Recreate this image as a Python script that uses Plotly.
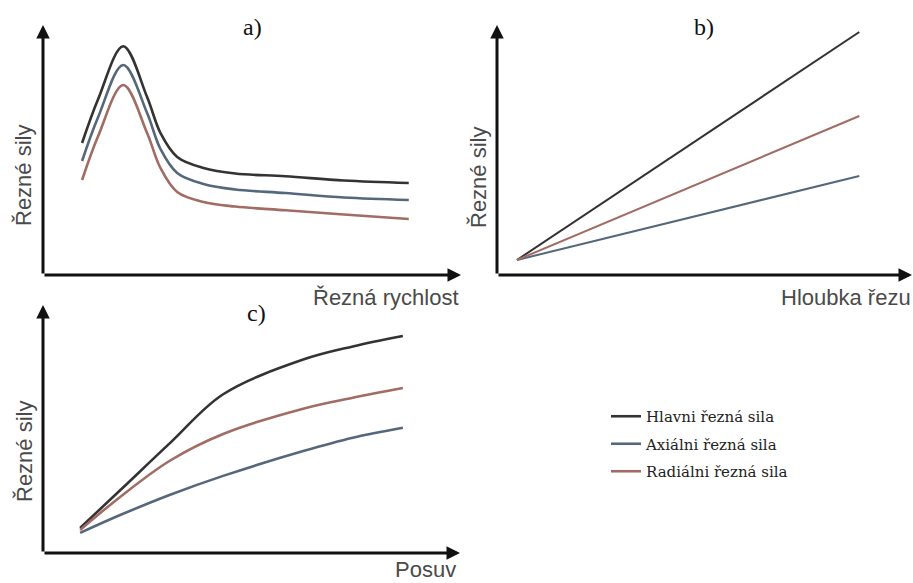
import plotly.graph_objects as go

# ---------------- data (arbitrary, schematic units 0-100) ----------------
series_names = ["Hlavni řezná sila", "Axiálni řezná sila", "Radiálni řezná sila"]
series_colors = ["#333333", "#55677a", "#a06c63"]

# a) forces vs cutting speed
a_speed = [9.35, 13.2, 19.2, 24.9, 28.1, 32.1, 38.4, 46.0, 58.0, 72.0, 87.5]
a_main = [52.8, 70.4, 91.5, 71.2, 56.8, 47.2, 42.8, 40.6, 39.5, 37.8, 36.8]
a_axial = [45.6, 63.2, 84.0, 64.8, 50.4, 40.8, 36.4, 34.2, 32.8, 31.0, 30.0]
a_radial = [38.0, 55.6, 76.0, 56.8, 42.8, 33.2, 29.2, 27.4, 25.9, 24.2, 22.4]

# b) forces vs depth of cut
b_depth = [4.8, 87.3]
b_main = [6, 97.2]
b_axial = [6, 39.6]
b_radial = [6, 63.6]

# c) forces vs feed
c_feed = [8.9, 18.5, 30.5, 43.2, 62.4, 74.3, 86.3]
c_main = [10.1, 25.3, 44.4, 64.0, 78.0, 83.3, 87.5]
c_axial = [8.1, 15.3, 23.5, 31.1, 41.1, 46.5, 50.5]
c_radial = [9.3, 22.6, 37.3, 48.0, 58.2, 62.6, 66.5]

panel_titles = ["a)", "b)", "c)"]
x_titles = ["Řezná rychlost", "Hloubka řezu", "Posuv"]
y_title = "Řezné sily"

W, H = 913, 583

fig = go.Figure()

def add_panel(xs, ys_list, xa, ya, width, show_legend):
    for name, ys, col in zip(series_names, ys_list, series_colors):
        fig.add_trace(go.Scatter(
            x=xs, y=ys, mode="lines", name=name,
            line=dict(color=col, width=width, shape="spline", smoothing=1.0),
            xaxis=xa, yaxis=ya, showlegend=show_legend, legendgroup=name,
            hoverinfo="skip"))

add_panel(a_speed, [a_main, a_axial, a_radial], "x", "y", 2.6, False)
add_panel(b_depth, [b_main, b_axial, b_radial], "x2", "y2", 2.0, False)
add_panel(c_feed, [c_main, c_axial, c_radial], "x3", "y3", 2.6, True)

def px_x(p):
    return p / W

def px_y(p):
    return 1 - p / H

domains = {
    "a": (px_x(43), px_x(461), px_y(275), px_y(25)),
    "b": (px_x(497), px_x(912), px_y(275), px_y(25)),
    "c": (px_x(43), px_x(460), px_y(553), px_y(305)),
}

ax_common = dict(range=[0, 100], showgrid=False, zeroline=False,
                 showticklabels=False, ticks="", showline=False, fixedrange=True)

layout_axes = {}
for i, key in enumerate(["a", "b", "c"]):
    x0, x1, y0, y1 = domains[key]
    sx = "" if i == 0 else str(i + 1)
    layout_axes["xaxis" + sx] = dict(domain=[x0, x1], anchor="y" + sx, **ax_common)
    layout_axes["yaxis" + sx] = dict(domain=[y0, y1], anchor="x" + sx, **ax_common)

annotations = []
# axis arrows
for i in range(3):
    sx = "" if i == 0 else str(i + 1)
    for (tx, ty) in [(1, 0), (0, 1)]:
        annotations.append(dict(
            xref="x%s domain" % sx, yref="y%s domain" % sx,
            axref="x%s domain" % sx, ayref="y%s domain" % sx,
            x=tx, y=ty, ax=0, ay=0, text="", showarrow=True,
            arrowhead=2, arrowsize=0.9, arrowwidth=3, arrowcolor="#111111",
            standoff=0, startstandoff=0))

serif = "Liberation Serif, Times New Roman, serif"
legend_serif = "DejaVu Serif, serif"
sans = "Liberation Sans, Arial, sans-serif"
label_col = "#4a4a4a"

# panel titles
for t, (cx, cy) in zip(panel_titles, [(252, 27), (704, 27), (256, 313)]):
    annotations.append(dict(xref="paper", yref="paper", x=px_x(cx), y=px_y(cy),
                            text=t, showarrow=False, xanchor="center", yanchor="middle",
                            font=dict(family=serif, size=24, color="#111111")))

# x-axis titles (right aligned at end of axis)
for t, (rx, cy) in zip(x_titles, [(461, 297), (913, 297), (458, 569)]):
    annotations.append(dict(xref="paper", yref="paper", x=px_x(rx), y=px_y(cy),
                            text=t, showarrow=False, xanchor="right", yanchor="middle",
                            font=dict(family=sans, size=22, color=label_col)))

# y-axis titles
for (cx, cy) in [(24, 176), (478, 177), (24, 452)]:
    annotations.append(dict(xref="paper", yref="paper", x=px_x(cx), y=px_y(cy),
                            text=y_title, showarrow=False, textangle=-90,
                            xanchor="center", yanchor="middle",
                            font=dict(family=sans, size=22, color=label_col)))

fig.update_layout(
    width=W, height=H,
    margin=dict(l=0, r=0, t=0, b=0),
    paper_bgcolor="white", plot_bgcolor="rgba(0,0,0,0)",
    showlegend=True,
    legend=dict(x=px_x(606), y=px_y(400), xanchor="left", yanchor="top",
                bgcolor="rgba(0,0,0,0)", tracegroupgap=5,
                font=dict(family=legend_serif, size=15, color="#222222")),
    annotations=annotations,
    **layout_axes,
)

fig.write_html("out.html", config={"displayModeBar": False},
               post_script="document.body.style.margin='0';document.body.style.overflow='hidden';")
